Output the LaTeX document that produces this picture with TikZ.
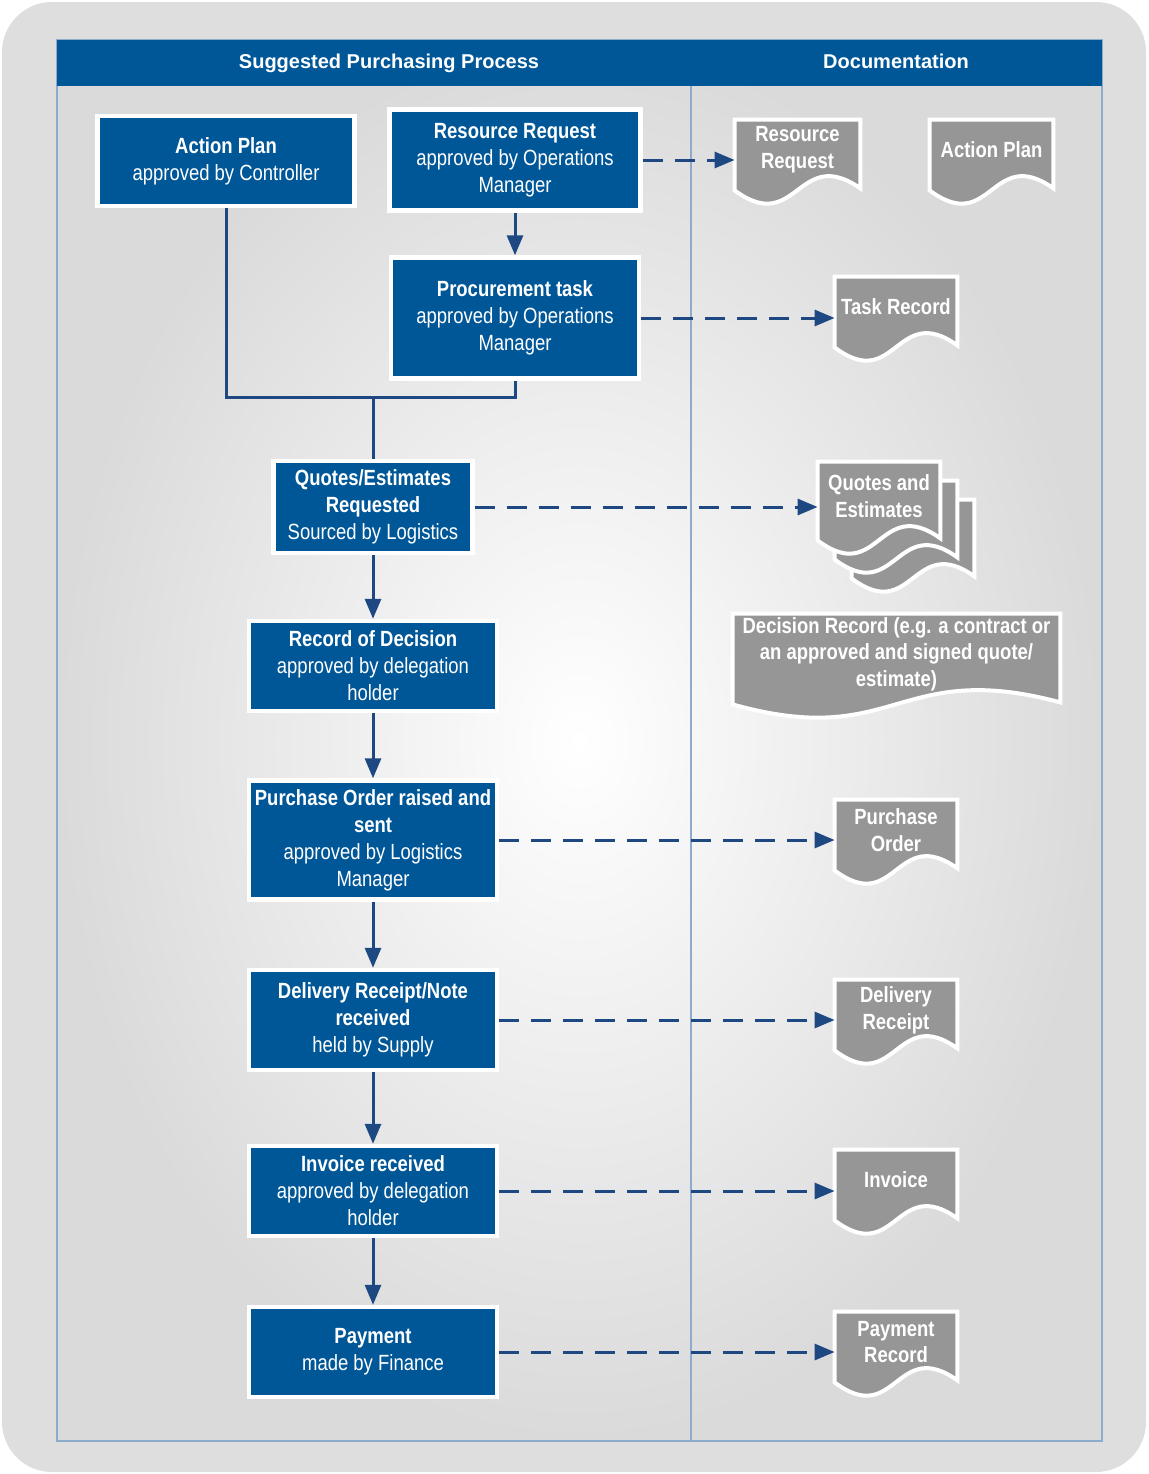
\documentclass[tikz,border=0pt]{standalone}
\usepackage{fontspec}
\setmainfont{Liberation Sans}
\newfontfamily\narrowfont[FakeStretch=0.84]{Liberation Sans}
\usetikzlibrary{arrows.meta,backgrounds,calc}

\definecolor{procblue}{RGB}{0,87,152}
\definecolor{linkblue}{RGB}{30,72,130}
\definecolor{docgray}{RGB}{150,150,150}
\definecolor{pagegray}{RGB}{222,222,222}
\definecolor{framegray}{RGB}{218,218,218}
\definecolor{rulecol}{RGB}{140,172,205}

\tikzset{
  headtext/.style={text=white, text height=7.5pt, text depth=2pt,
    font=\bfseries\fontsize{10}{12}\selectfont},
  procbox/.style={draw=white, line width=2.2pt, fill=procblue, text=white, align=center,
    inner sep=0pt, font=\narrowfont\fontsize{11}{13.5}\selectfont},
  docbox/.style={inner sep=0pt, text=white, align=center, minimum width=61pt, minimum height=30pt,
    font=\narrowfont\bfseries\fontsize{11}{13.3}\selectfont},
  docfill/.style={fill=docgray, draw=white, line width=2pt},
  flow/.style={draw=linkblue, line width=1.5pt},
  flowarrow/.style={flow, -{Triangle[length=10pt,width=8pt]}},
  dashflow/.style={flowarrow, dash pattern=on 10pt off 6pt},
}

% paper sheet with a wavy lower edge round a node, #1 = offset in the stack
\newcommand{\docshape}[2][0]{%
  \path[docfill] let \p1=(#2.south west), \p2=(#2.north east) in
    (\x1+#1*8.5pt,\y2-#1*9.5pt) -- (\x2+#1*8.5pt,\y2-#1*9.5pt)
    -- (\x2+#1*8.5pt,\y1-4pt-#1*9.5pt)
    .. controls ({0.5*(\x1+\x2)+#1*8.5pt},\y1+18pt-#1*9.5pt)
       and ({0.5*(\x1+\x2)+#1*8.5pt},\y1-28pt-#1*9.5pt)
    .. (\x1+#1*8.5pt,\y1-5pt-#1*9.5pt) -- cycle;}

\begin{document}
\begin{tikzpicture}[x=0.5pt,y=-0.5pt]
  \useasboundingbox (0,0) rectangle (1148,1474);

  \begin{scope}[on background layer]
    \fill[pagegray, rounded corners=25pt] (2,2) rectangle (1146,1472);
    \shade[inner color=white, outer color=framegray] (57,40) rectangle (1102,1441);
    \draw[rulecol, line width=0.6pt] (57,40) rectangle (1102,1441);
    \fill[procblue] (57,40) rectangle (1102,86);
    \draw[rulecol, line width=0.6pt] (691,86) -- (691,1441);
  \end{scope}

  \draw (389,63) node[headtext] (headproc) {Suggested Purchasing Process};
  \draw (896,63) node[headtext] (headdoc) {Documentation};

  % process steps
  \draw (226,161) node[procbox, minimum width=128.5pt, minimum height=45pt] (actionplan)
    {\textbf{Action Plan}\\approved by Controller};
  \draw (515,160) node[procbox, minimum width=125.5pt, minimum height=50.5pt] (resreq)
    {\textbf{Resource Request}\\approved by Operations\\Manager};
  \draw (515,318) node[procbox, minimum width=124pt, minimum height=60.5pt] (proctask)
    {\textbf{Procurement task}\\approved by Operations\\Manager};
  \draw (373,507) node[procbox, minimum width=99.5pt, minimum height=46pt] (quotes)
    {\textbf{Quotes/Estimates}\\\textbf{Requested}\\Sourced by Logistics};
  \draw (373,666) node[procbox, minimum width=124pt, minimum height=45pt] (decision)
    {\textbf{Record of Decision}\\approved by delegation\\holder};
  \draw (373,840) node[procbox, minimum width=124pt, minimum height=59.5pt] (porder)
    {\textbf{Purchase Order raised and}\\\textbf{sent}\\approved by Logistics\\Manager};
  \draw (373,1020) node[procbox, minimum width=124pt, minimum height=50pt] (delivery)
    {\textbf{Delivery Receipt/Note}\\\textbf{received}\\held by Supply};
  \draw (373,1191) node[procbox, minimum width=124pt, minimum height=45pt] (invoice)
    {\textbf{Invoice received}\\approved by delegation\\holder};
  \draw (373,1352) node[procbox, minimum width=124pt, minimum height=45pt] (payment)
    {\textbf{Payment}\\made by Finance};

  % documents
  \draw (797.5,150) node[docbox, minimum width=62.5pt] (docrr) {Resource\\Request};
  \draw (991.5,150) node[docbox, minimum width=61.5pt] (docap) {Action Plan};
  \draw (896,307) node[docbox] (doctask) {Task Record};
  \draw (879,496) node[docbox, minimum height=34pt] (docquotes) {Quotes and\\Estimates};
  \draw (896.5,654) node[docbox, minimum width=163.5pt, minimum height=40pt] (docdecision)
    {Decision Record (e.g. a contract or\\an approved and signed quote/\\estimate)};
  \draw (896,830) node[docbox] (docpo) {Purchase\\Order};
  \draw (896,1010) node[docbox] (docdel) {Delivery\\Receipt};
  \draw (896,1180) node[docbox] (docinv) {Invoice};
  \draw (896,1342) node[docbox] (docpay) {Payment\\Record};

  \begin{scope}[on background layer]
    \docshape{docrr} \docshape{docap} \docshape{doctask}
    \docshape[2]{docquotes} \docshape[1]{docquotes} \docshape{docquotes}
    \docshape{docdecision} \docshape{docpo} \docshape{docdel}
    \docshape{docinv} \docshape{docpay}
  \end{scope}

  % connectors
  \coordinate (join) at (373,397);
  \draw[flow] (actionplan.south) |- (join) -| (proctask.south);
  \draw[flow] (join) -- (quotes.north);
  \draw[flowarrow] (resreq) -- (proctask);
  \draw[flowarrow] (quotes) -- (decision);
  \draw[flowarrow] (decision) -- (porder);
  \draw[flowarrow] (porder) -- (delivery);
  \draw[flowarrow] (delivery) -- (invoice);
  \draw[flowarrow] (invoice) -- (payment);

  \draw[dashflow] (resreq.east) -- (resreq.east -| docrr.west);
  \draw[dashflow] (proctask.east) -- (proctask.east -| doctask.west);
  \draw[dashflow] (quotes.east) -- (quotes.east -| docquotes.west);
  \draw[dashflow] (porder.east) -- (porder.east -| docpo.west);
  \draw[dashflow] (delivery.east) -- (delivery.east -| docdel.west);
  \draw[dashflow] (invoice.east) -- (invoice.east -| docinv.west);
  \draw[dashflow] (payment.east) -- (payment.east -| docpay.west);
\end{tikzpicture}
\end{document}
